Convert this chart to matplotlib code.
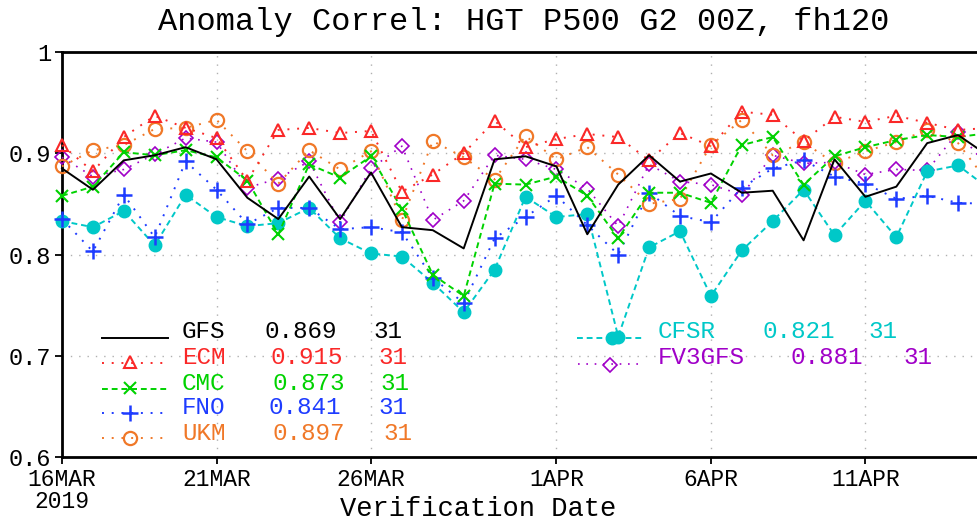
import numpy as np
import matplotlib
matplotlib.use("Agg")
import matplotlib.pyplot as plt
from matplotlib.lines import Line2D

# verification days, 16 Mar 2019 .. 15 Apr 2019
days = np.arange(31)
tick_days = [0, 5, 10, 16, 21, 26]
tick_labels = ["16MAR\n2019", "21MAR", "26MAR", "1APR", "6APR", "11APR"]
y_ticks = [0.6, 0.7, 0.8, 0.9, 1.0]
y_labels = ["0.6", "0.7", "0.8", "0.9", "1"]

gfs = [0.885, 0.864, 0.893, 0.898, 0.906, 0.894, 0.856, 0.835, 0.877, 0.835,
       0.881, 0.827, 0.824, 0.806, 0.894, 0.897, 0.887, 0.820, 0.869, 0.898,
       0.872, 0.880, 0.861, 0.863, 0.814, 0.894, 0.857, 0.867, 0.910, 0.918,
       0.897]
ecm = [0.908, 0.882, 0.916, 0.937, 0.925, 0.915, 0.873, 0.923, 0.925, 0.920,
       0.922, 0.862, 0.879, 0.900, 0.932, 0.906, 0.914, 0.919, 0.916, 0.893,
       0.920, 0.907, 0.941, 0.938, 0.912, 0.936, 0.931, 0.937, 0.930, 0.923,
       0.925]
cmc = [0.858, 0.867, 0.901, 0.898, 0.903, 0.896, 0.873, 0.820, 0.889, 0.876,
       0.897, 0.845, 0.780, 0.759, 0.870, 0.869, 0.877, 0.858, 0.816, 0.861,
       0.861, 0.851, 0.908, 0.916, 0.869, 0.897, 0.906, 0.913, 0.918, 0.916,
       0.920]
fno = [0.835, 0.803, 0.859, 0.817, 0.892, 0.864, 0.830, 0.846, 0.846, 0.825,
       0.827, 0.822, 0.777, 0.752, 0.816, 0.837, 0.858, 0.829, 0.800, 0.861,
       0.838, 0.832, 0.866, 0.885, 0.893, 0.877, 0.870, 0.855, 0.858, 0.851,
       0.850]
ukm = [0.887, 0.903, 0.908, 0.924, 0.925, 0.933, 0.902, 0.870, 0.903, 0.884,
       0.902, 0.834, 0.912, 0.896, 0.874, 0.917, 0.894, 0.906, 0.879, 0.850,
       0.855, 0.908, 0.933, 0.898, 0.911, 0.890, 0.902, 0.911, 0.923, 0.910,
       0.870]
cfsr = [0.833, 0.827, 0.843, 0.809, 0.859, 0.837, 0.828, 0.831, 0.846, 0.816,
        0.801, 0.798, 0.772, 0.743, 0.785, 0.857, 0.837, 0.840, 0.719, 0.807,
        0.823, 0.759, 0.804, 0.833, 0.864, 0.819, 0.853, 0.817, 0.882, 0.888,
        0.865]
fv3 = [0.896, 0.877, 0.884, 0.899, 0.915, 0.911, 0.866, 0.875, 0.892, 0.832,
       0.885, 0.907, 0.834, 0.853, 0.898, 0.894, 0.884, 0.865, 0.828, 0.889,
       0.872, 0.869, 0.859, 0.898, 0.890, 0.891, 0.879, 0.884, 0.883, 0.921,
       0.885]

names = ["GFS", "ECM", "CMC", "FNO", "UKM", "CFSR", "FV3GFS"]
scores = ["0.869", "0.915", "0.873", "0.841", "0.897", "0.821", "0.881"]
counts = ["31"] * 7

FONT = "Liberation Mono"
W, H = 977, 523

black = "#000000"
red = "#fa2828"
green = "#00d200"
blue = "#1e3cff"
orange = "#f07828"
cyan = "#00c8c8"
purple = "#a000c8"

dot = (0, (1, 4))
sdash = (0, (3, 2))

styles = [
    dict(color=black, ls="-", lw=1.4, marker=None),
    dict(color=red, ls=dot, lw=1.4, marker="^", ms=9, mfc="none", mew=1.5),
    dict(color=green, ls=sdash, lw=1.4, marker="x", ms=8, mew=1.5),
    dict(color=blue, ls=dot, lw=1.4, marker="+", ms=11, mew=1.8),
    dict(color=orange, ls=dot, lw=1.4, marker="o", ms=9.5, mfc="none", mew=1.6),
    dict(color=cyan, ls=sdash, lw=1.4, marker="o", ms=9, mec=cyan, mfc=cyan),
    dict(color=purple, ls=dot, lw=1.2, marker="D", ms=7, mfc="none", mew=1.2),
]
series = [gfs, ecm, cmc, fno, ukm, cfsr, fv3]

fig = plt.figure(figsize=(W / 100, H / 100), dpi=100)
# axes runs past the right edge of the picture, as in the original
ax = fig.add_axes([62 / W, (H - 457) / H, 927 / W, 405 / H])

ax.set_xlim(0, 30)
ax.set_ylim(0.6, 1.0)

# dotted grid
for d in tick_days[1:]:
    ax.axvline(d, color="#b0b0b0", ls=(0, (1, 5)), lw=1.0, zorder=0)
for v in y_ticks[1:-1]:
    ax.axhline(v, color="#b0b0b0", ls=(0, (1, 5)), lw=1.0, zorder=0)

# draw in reverse so GFS sits on top
for vals, st in reversed(list(zip(series, styles))):
    ax.plot(days, vals, clip_on=False, zorder=3, **st)

ax.set_xticks(tick_days)
ax.set_xticklabels(tick_labels, fontfamily=FONT, fontsize=16.5, linespacing=0.95)
ax.set_yticks(y_ticks)
ax.set_yticklabels(y_labels, fontfamily=FONT, fontsize=17)
ax.tick_params(axis="both", direction="out", length=5, width=1.3)
ax.tick_params(axis="x", pad=3)
ax.tick_params(axis="y", pad=3)

for side in ["left", "bottom", "top", "right"]:
    ax.spines[side].set_linewidth(2.0)

fig.text(524 / W, 1 - 22 / H, "Anomaly Correl: HGT P500 G2 00Z, fh120",
         fontfamily=FONT, fontsize=23, ha="center", va="center")
fig.text(478 / W, 1 - 509 / H, "Verification Date",
         fontfamily=FONT, fontsize=19.5, ha="center", va="center")


def fx(x):
    return x / W


def fy(y):
    return 1 - y / H


def legend_row(i, x0, x1, xm, yl, ym, xt, yt, xs, xc):
    st = dict(styles[i])
    marker = st.pop("marker")
    ms = st.pop("ms", None)
    mfc = st.pop("mfc", None)
    mec = st.pop("mec", None)
    mew = st.pop("mew", None)
    fig.add_artist(Line2D([fx(x0), fx(x1)], [fy(yl), fy(yl)],
                          transform=fig.transFigure, **st))
    if marker:
        kw = dict(marker=marker, ms=ms, color=st["color"], ls="none")
        if mfc is not None:
            kw["mfc"] = mfc
        if mec is not None:
            kw["mec"] = mec
        if mew is not None:
            kw["mew"] = mew
        fig.add_artist(Line2D([fx(xm)], [fy(ym)],
                              transform=fig.transFigure, **kw))
    for txt, xx in [(names[i], xt), (scores[i], xs), (counts[i], xc)]:
        fig.text(fx(xx), fy(yt), txt, color=st["color"], fontfamily=FONT,
                 fontsize=17.5, ha="left", va="center")


legend_row(0, 102, 168, 135, 338, 338, 182, 332, 265, 373)
legend_row(1, 102, 168, 130, 363, 362, 182, 357, 270, 378)
legend_row(2, 102, 168, 130, 389, 388, 182, 383, 272, 380)
legend_row(3, 102, 168, 130, 413, 413, 182, 408, 268, 378)
legend_row(4, 102, 168, 130, 438, 438, 182, 433, 273, 383)
legend_row(5, 577, 645, 612, 338, 338, 658, 332, 763, 868)
legend_row(6, 578, 640, 610, 364, 365, 658, 358, 790, 903)

fig.savefig("out.png", dpi=100)
